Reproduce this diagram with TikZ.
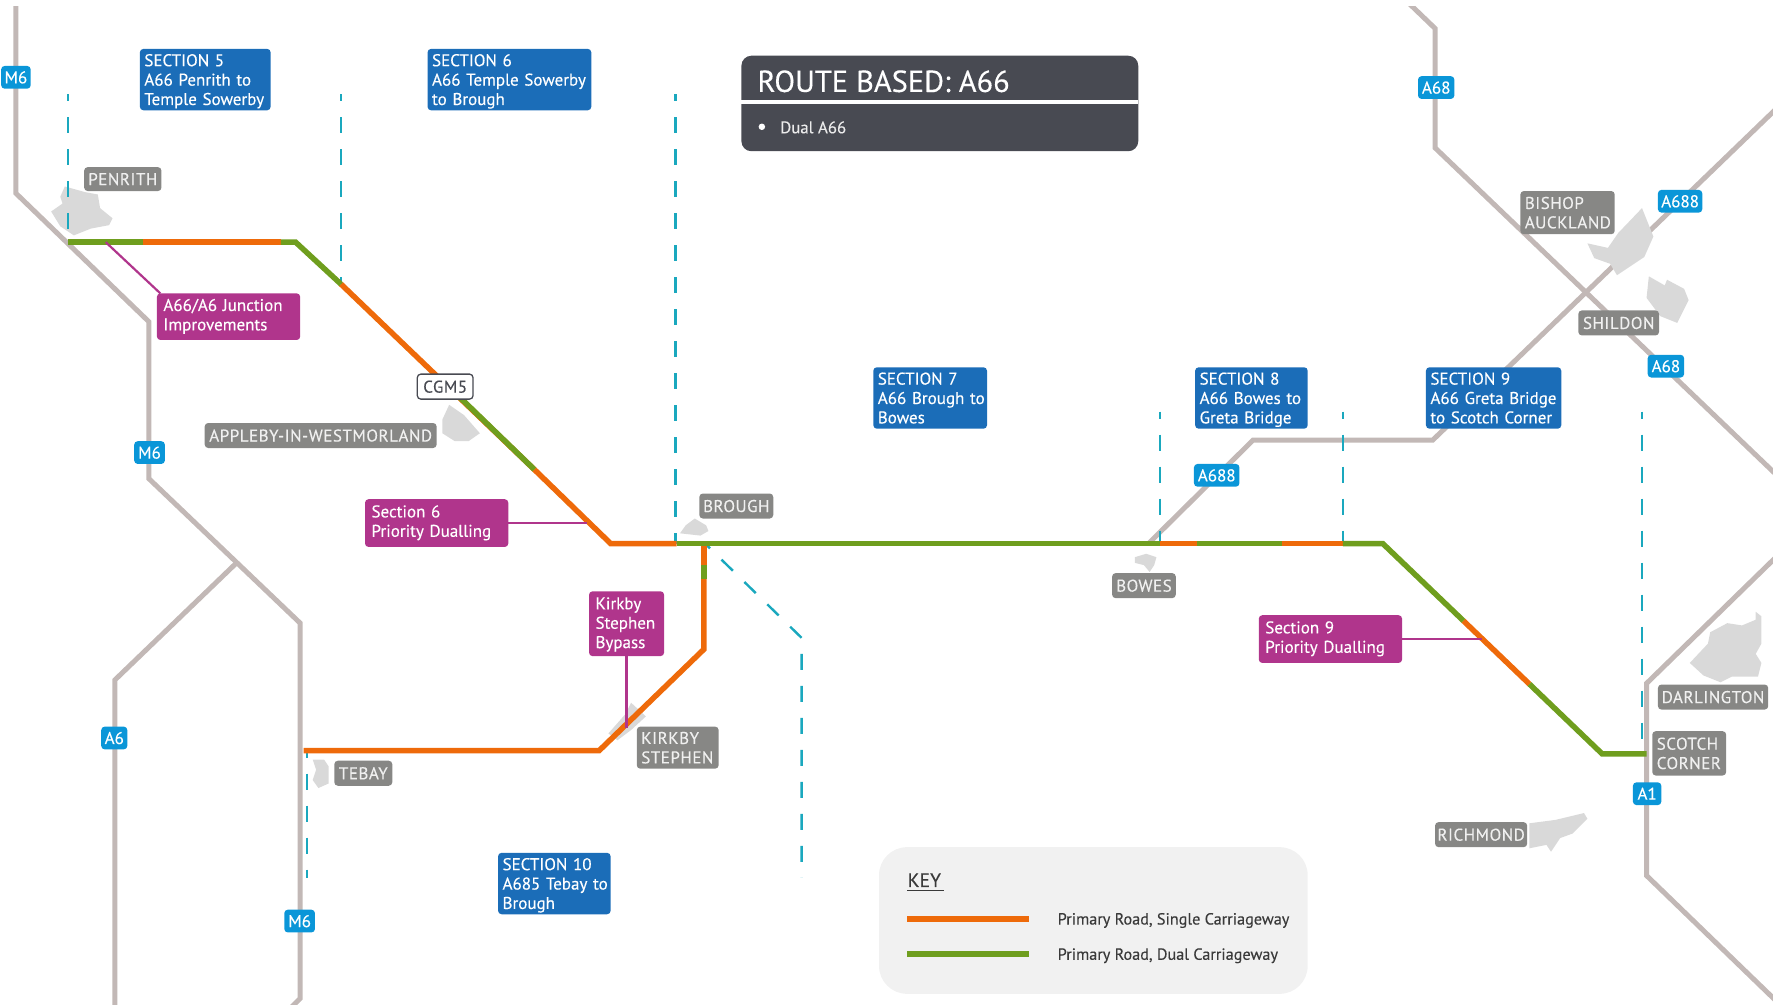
\documentclass[tikz,border=0pt]{standalone}
\usepackage{fontspec}
\setmainfont{PT Sans}[FakeBold=0.25]
\definecolor{roadc}{HTML}{C2B8B6}
\definecolor{orangec}{HTML}{EE6A0A}
\definecolor{greenc}{HTML}{6F9E1E}
\definecolor{tealc}{HTML}{1AA8BE}
\definecolor{roadlab}{HTML}{0A96D8}
\definecolor{seclab}{HTML}{1B6DB8}
\definecolor{maglab}{HTML}{B0358C}
\definecolor{graylab}{HTML}{878785}
\definecolor{darkbox}{HTML}{484A52}
\definecolor{cityc}{HTML}{D9D9D9}
\definecolor{keybg}{HTML}{F1F1F1}
\definecolor{keytxt}{HTML}{3A3A3A}
\tikzset{
  road/.style={draw=roadc,line width=5pt,line join=miter},
  single/.style={draw=orangec,line width=5.5pt,line join=miter},
  dual/.style={draw=greenc,line width=5.5pt,line join=miter},
  secline/.style={draw=tealc,line width=2.4pt,dash pattern=on 16pt off 16pt,dash phase=9pt},
  city/.style={fill=cityc,draw=none},
  lead/.style={draw=maglab,line width=2.2pt},
  lab/.style={rounded corners=3.5pt,inner sep=0pt,align=left,text=white,anchor=center},
  roadbox/.style={lab,fill=roadlab,font=\fontsize{17}{19}\selectfont},
  secbox/.style={lab,fill=seclab,font=\fontsize{17}{19.4}\selectfont},
  magbox/.style={lab,fill=maglab,font=\fontsize{17}{19.4}\selectfont},
  graybox/.style={lab,fill=graylab,text=white!94!black,font=\fontsize{17}{19.4}\selectfont\addfontfeature{LetterSpace=3}},
  cgmbox/.style={lab,fill=white,draw=darkbox,line width=1.3pt,text=darkbox,font=\fontsize{17}{19}\selectfont\addfontfeature{LetterSpace=3}},
}
\newcommand\capup{\rule{0pt}{16pt}}
\newcommand\capdn{\rule[-4pt]{0pt}{4pt}}
% centred single-line label
\newcommand\boxnode[7]{%
  \pgfmathsetmacro\bw{(#5-#3)*1.1371}%
  \pgfmathsetmacro\bh{(#6-#4)*1.1371}%
  \pgfmathsetmacro\bx{(#3+#5)/2}%
  \pgfmathsetmacro\by{(#4+#6)/2}%
  \node[#1,minimum width=\bw pt,minimum height=\bh pt] (#2) at (\bx,\by) {\capup #7\capdn};}
% flush-left label, first argument is the side padding
\newcommand\flushnode[8]{%
  \pgfmathsetmacro\bw{(#6-#4)*1.1371}%
  \pgfmathsetmacro\bh{(#7-#5)*1.1371}%
  \pgfmathsetmacro\tw{\bw-2*#1}%
  \pgfmathsetmacro\bx{(#4+#6)/2}%
  \pgfmathsetmacro\by{(#5+#7)/2}%
  \node[#2,inner xsep=#1pt,text width=\tw pt,minimum width=\bw pt,minimum height=\bh pt] (#3) at (\bx,\by) {\capup #8\capdn};}
\begin{document}
\begin{tikzpicture}[x=1.1371pt,y=-1.1371pt]
\useasboundingbox (0,0) rectangle (1568,883.8);
% background roads
\begin{scope}
\clip (0,6) rectangle (1559,884);
\draw[road] (14,0) -- (14,170) -- (131,283) -- (131,421) -- (264,548) -- (264,878) -- (254,888);
\draw[road] (208,495) -- (101,598) -- (101,890);
\draw[road] (1236,0) -- (1262,25) -- (1262,130) -- (1570,425);
\draw[road] (1010,478) -- (1102,387) -- (1260,387) -- (1570,88);
\draw[road] (1570,482) -- (1448,601) -- (1448,770) -- (1570,888);
\end{scope}
% towns
\fill[city] (57,164)--(75,169)--(86,171)--(88,183)--(99,192)--(96,198)--(80,201)--(65,207)--(53,199)--(45,186)--(55,179)--(53,173)--cycle;
\fill[city] (395,356)--(408,365)--(422,381)--(412,388)--(400,388)--(389,381)--(389,369)--cycle;
\fill[city] (611,456)--(621,462)--(623,467)--(616,471)--(598,469)--(603,462)--cycle;
\fill[city] (275,668)--(285,668)--(289,674)--(289,689)--(280,693)--(275,686)--(278,677)--cycle;
\fill[city] (555,618)--(568,630)--(555,642)--(543,651)--(535,645)--(550,628)--cycle;
\fill[city] (998,490)--(1008,487)--(1017,490)--(1015,497)--(1011,503)--(1006,497)--(998,495)--cycle;
\fill[city] (1444,183)--(1454,208)--(1446,226)--(1422,242)--(1416,232)--(1402,227)--(1396,214)--(1414,218)--(1423,205)--cycle;
\fill[city] (1450,243)--(1464,251)--(1466,246)--(1481,254)--(1485,264)--(1475,284)--(1460,278)--(1448,262)--cycle;
\fill[city] (1544,538)--(1549,542)--(1549,566)--(1544,575)--(1549,583)--(1546,595)--(1523,595)--(1513,600)--(1498,594)--(1486,583)--(1502,566)--(1504,556)--(1519,548)--(1532,550)--(1544,545)--cycle;
\fill[city] (1345,724)--(1368,721)--(1393,715)--(1396,720)--(1383,733)--(1372,737)--(1364,749)--(1360,743)--(1345,746)--cycle;
% section boundaries
\coordinate (s5a) at (60,83);   \coordinate (s5b) at (60,213);
\coordinate (s6a) at (300,83);  \coordinate (s6b) at (300,250);
\coordinate (s7a) at (594,83);  \coordinate (s7b) at (594,478);
\coordinate (s10a) at (620,478); \coordinate (s10b) at (705,561); \coordinate (s10c) at (705,772);
\coordinate (s11a) at (270,660); \coordinate (s11b) at (270,772);
\coordinate (s8a) at (1020,362); \coordinate (s8b) at (1020,478);
\coordinate (s9a) at (1181,362); \coordinate (s9b) at (1181,478);
\coordinate (s12a) at (1444,362); \coordinate (s12b) at (1444,662);
\draw[secline] (s5a) -- (s5b);
\draw[secline] (s6a) -- (s6b);
\draw[secline] (s7a) -- (s7b);
\draw[secline] (s10a) -- (s10b) -- (s10c);
\draw[secline] (s11a) -- (s11b);
\draw[secline] (s8a) -- (s8b);
\draw[secline] (s9a) -- (s9b);
\draw[secline] (s12a) -- (s12b);
% A66 route
\coordinate (r0) at (60,213);
\coordinate (r1) at (126,213);
\coordinate (r2) at (247,213);
\coordinate (r3) at (260,213);
\coordinate (r4) at (300,250);
\coordinate (r5) at (470,413);
\coordinate (r6) at (537,478);
\coordinate (r7) at (595,478);
\coordinate (r8) at (1020,478);
\coordinate (r9) at (1053,478);
\coordinate (r10) at (1127,478);
\coordinate (r11) at (1181,478);
\coordinate (r12) at (1216,478);
\coordinate (r13) at (1287,546);
\coordinate (r14) at (1345,601.6);
\coordinate (r15) at (1409,663);
\coordinate (r16) at (1448,663);
\draw[dual] (r0) -- (r1);
\draw[single] (r1) -- (r2);
\draw[dual] (r2) -- (r3) -- (r4);
\draw[single] (r4) -- (r5);
\draw[dual] (405,350) -- (r5);
\draw[single] (r5) -- (r6) -- (r7);
\draw[dual] (r7) -- (r8);
\draw[single] (r8) -- (r9);
\draw[dual] (r9) -- (r10);
\draw[single] (r10) -- (r11);
\draw[dual] (r11) -- (r12) -- (r13);
\draw[single] (r13) -- (r14);
\draw[dual] (r14) -- (r15) -- (r16);
% A685 route
\coordinate (t0) at (267,660);
\coordinate (t1) at (527,660);
\coordinate (t2) at (619,571);
\coordinate (t3) at (619,509);
\coordinate (t4) at (619,497);
\coordinate (t5) at (619,480);
\draw[single] (t0) -- (t1) -- (t2) -- (t3);
\draw[dual] (t3) -- (t4);
\draw[single] (t4) -- (t5);
% road labels
\boxnode{roadbox}{m6a}{1}{58}{27}{78}{M6}
\boxnode{roadbox}{m6b}{118}{388}{145}{408}{M6}
\boxnode{roadbox}{a6}{89}{639}{112}{659}{A6}
\boxnode{roadbox}{m6c}{250}{800}{277}{820}{M6}
\boxnode{roadbox}{a68a}{1247}{67}{1279}{87}{A68}
\boxnode{roadbox}{a688a}{1458}{167}{1497}{187}{A688}
\boxnode{roadbox}{a68b}{1449}{312}{1481}{332}{A68}
\boxnode{roadbox}{a688b}{1050}{408}{1090}{428}{A688}
\boxnode{roadbox}{a1}{1436}{688}{1461}{708}{A1}
% section labels
\flushnode{4.5}{secbox}{sec5}{123}{43}{238}{97}{SECTION 5\\A66 Penrith to\\Temple Sowerby}
\flushnode{4.5}{secbox}{sec6}{376}{43}{520}{97}{SECTION 6\\A66 Temple Sowerby\\to Brough}
\flushnode{4.5}{secbox}{sec7}{768}{323}{868}{377}{SECTION 7\\\mbox{A66 Brough to}\\Bowes}
\flushnode{4.5}{secbox}{sec8}{1051}{323}{1150}{377}{SECTION 8\\\mbox{A66 Bowes to}\\Greta Bridge}
\flushnode{4.5}{secbox}{sec9}{1254}{323}{1373}{377}{SECTION 9\\A66 Greta Bridge\\\mbox{to Scotch Corner}}
\flushnode{4.5}{secbox}{sec10}{438}{750}{537}{804}{SECTION 10\\\mbox{A685 Tebay to}\\Brough}
% scheme labels
\flushnode{6.5}{magbox}{jct}{138}{258}{264}{299}{A66/A6 Junction\\Improvements\rule[-8pt]{0pt}{8pt}}
\flushnode{6.5}{magbox}{pd6}{321}{439}{447}{481}{Section 6\\Priority Dualling\rule[-8pt]{0pt}{8pt}}
\flushnode{6.5}{magbox}{kby}{518}{520}{584}{577}{Kirkby\\Stephen\\Bypass\rule[-6pt]{0pt}{6pt}}
\flushnode{6.5}{magbox}{pd9}{1107}{541}{1233}{583}{Section 9\\Priority Dualling\rule[-8pt]{0pt}{8pt}}
\coordinate (jctp) at (93,213);
\coordinate (pd6p) at (516,460);
\coordinate (kbyp) at (551,640);
\coordinate (pd9p) at (1303,562);
\draw[lead] (jctp) -- (141,258);
\draw[lead] (pd6.east) -- (pd6p);
\draw[lead] (kby.south) -- (kbyp);
\draw[lead] (pd9.east) -- (pd9p);
% towns labels
\boxnode{graybox}{penrith}{74}{147}{142}{168}{PENRITH}
\boxnode{graybox}{appleby}{180}{372}{384}{394}{APPLEBY-IN-WESTMORLAND}
\boxnode{graybox}{brough}{615}{434}{680}{456}{BROUGH}
\flushnode{4.5}{graybox}{bishop}{1337}{168}{1420}{206}{BISHOP\\AUCKLAND}
\boxnode{graybox}{shildon}{1388}{273}{1459}{295}{SHILDON}
\boxnode{graybox}{bowes}{978}{504}{1034}{526}{BOWES}
\boxnode{graybox}{darl}{1458}{602}{1555}{624}{DARLINGTON}
\flushnode{4.5}{graybox}{scotch}{1453}{643}{1518}{682}{SCOTCH\\CORNER}
\boxnode{graybox}{richmond}{1262}{723}{1343}{745}{RICHMOND}
\boxnode{graybox}{tebay}{294}{669}{345}{691}{TEBAY}
\flushnode{4.5}{graybox}{kirkby}{560}{639}{632}{676}{KIRKBY\\STEPHEN}
\boxnode{cgmbox}{cgm}{367}{329}{416}{351}{CGM5}
% title panel
\boxnode{lab,fill=darkbox,rounded corners=10pt}{panel}{652}{49}{1001}{133}{}
\fill[white] (652,88) rectangle (1001,91.5);
\node[anchor=west,text=white,inner sep=0pt,font=\fontsize{30.4}{32}\selectfont] (title) at (666,71.5) {ROUTE BASED: A66};
\node[circle,fill=white,inner sep=0pt,minimum size=6.5pt] (bullet) at (670,111.5) {};
\node[anchor=west,text=white!92!black,inner sep=0pt,font=\fontsize{16.8}{19}\selectfont] (dual) at (686,112) {Dual A66};
% key
\boxnode{lab,fill=keybg,rounded corners=28pt}{keybox}{773}{745}{1150}{874}{}
\node[anchor=west,text=keytxt,inner sep=0pt,font=\fontsize{19.6}{22}\selectfont] (keyh) at (798,774) {KEY};
\coordinate (ku1) at (798,783); \coordinate (ku2) at (830,783);
\draw[keytxt,line width=1.3pt] (ku1) -- (ku2);
\coordinate (k1a) at (798,808); \coordinate (k1b) at (905,808);
\coordinate (k2a) at (798,839); \coordinate (k2b) at (905,839);
\draw[single] (k1a) -- (k1b);
\draw[dual] (k2a) -- (k2b);
\node[anchor=west,text=keytxt,inner sep=0pt,font=\fontsize{16.2}{19}\selectfont] (kt1) at (930,809.5) {Primary Road, Single Carriageway};
\node[anchor=west,text=keytxt,inner sep=0pt,font=\fontsize{16.2}{19}\selectfont] (kt2) at (930,840.5) {Primary Road, Dual Carriageway};
\end{tikzpicture}
\end{document}
